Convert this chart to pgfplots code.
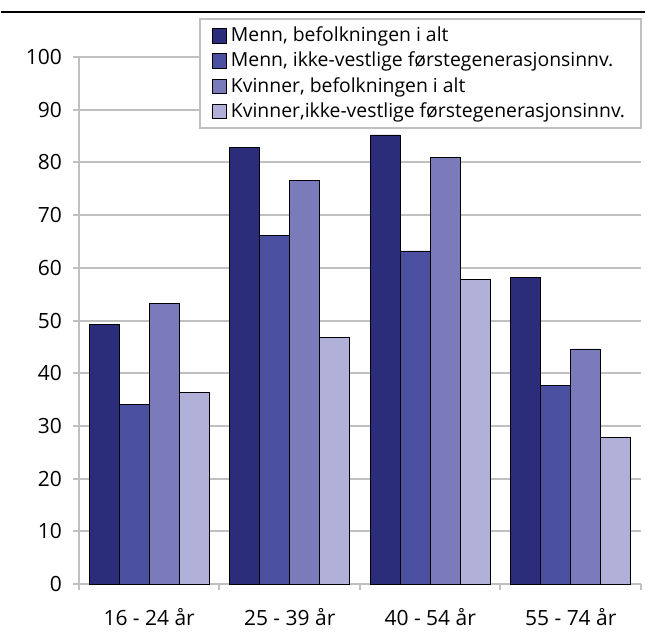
\documentclass[border=0pt]{standalone}
\usepackage{pgfplots}
\pgfplotsset{compat=1.18}
\usepackage{fontspec}
\setmainfont{Open Sans}

\definecolor{c1}{HTML}{2B2C7A}
\definecolor{c2}{HTML}{4B4FA0}
\definecolor{c3}{HTML}{7B7BBB}
\definecolor{c4}{HTML}{B0B0D8}
\definecolor{gridgray}{HTML}{C0C0C0}

\begin{document}
\begin{tikzpicture}
\begin{axis}[
    name=ax,
    scale only axis,
    width=281.5pt, height=264pt,
    xmin=-0.5, xmax=3.5,
    ymin=0, ymax=100,
    ybar=0pt, bar width=15pt,
    xtick={0,1,2,3},
    xticklabels={16 - 24 år, 25 - 39 år, 40 - 54 år, 55 - 74 år},
    minor xtick={-0.5,0.5,1.5,2.5,3.5},
    major x tick style={draw=none},
    minor x tick style={gridgray, line width=1pt},
    ytick={0,10,...,100},
    ytick style={gridgray, line width=1pt},
    tick align=outside,
    major tick length=3pt, minor tick length=3pt,
    ymajorgrids,
    grid style={gridgray, line width=1pt},
    axis x line*=bottom, axis y line*=left,
    axis line style={gridgray, line width=1pt},
    every axis plot/.append style={draw=black, line width=0.4pt},
    tick label style={font=\fontsize{10.5}{12}\selectfont},
    /pgf/number format/assume math mode=true,
    xticklabel style={yshift=-5.5pt},
    yticklabel style={xshift=-2pt},
    clip=false,
    legend cell align=left,
    legend style={at={(rel axis cs:1,1)}, anchor=north east, xshift=0.5pt, yshift=19.5pt,
        draw=gridgray, line width=1pt, fill=white,
        font=\fontsize{9.7}{12.5}\selectfont, inner xsep=6pt, inner ysep=2pt,
        row sep=-0.3pt},
    legend image code/.code={\draw[#1, draw=black, line width=0.4pt] (0pt,-3.6pt) rectangle (7.2pt,3.6pt);},
]
\addplot[fill=c1] coordinates {(0,49.2) (1,82.8) (2,85.2) (3,58.1)};
\addplot[fill=c2] coordinates {(0,34.0) (1,66.2) (2,63.2) (3,37.7)};
\addplot[fill=c3] coordinates {(0,53.2) (1,76.6) (2,81.0) (3,44.6)};
\addplot[fill=c4] coordinates {(0,36.4) (1,46.8) (2,57.8) (3,27.8)};
\legend{{Menn, befolkningen i alt}, {Menn, ikke-vestlige førstegenerasjonsinnv.}, {Kvinner, befolkningen i alt}, {Kvinner,ikke-vestlige førstegenerasjonsinnv.}}
\end{axis}
\draw[line width=1pt, black] ([xshift=-39pt,yshift=22.5pt]ax.north west) -- ([xshift=2pt,yshift=22.5pt]ax.north east);
\path ([xshift=-39pt,yshift=-27pt]ax.south west) rectangle ([xshift=5.5pt,yshift=28.5pt]ax.north east);
\end{tikzpicture}
\end{document}
